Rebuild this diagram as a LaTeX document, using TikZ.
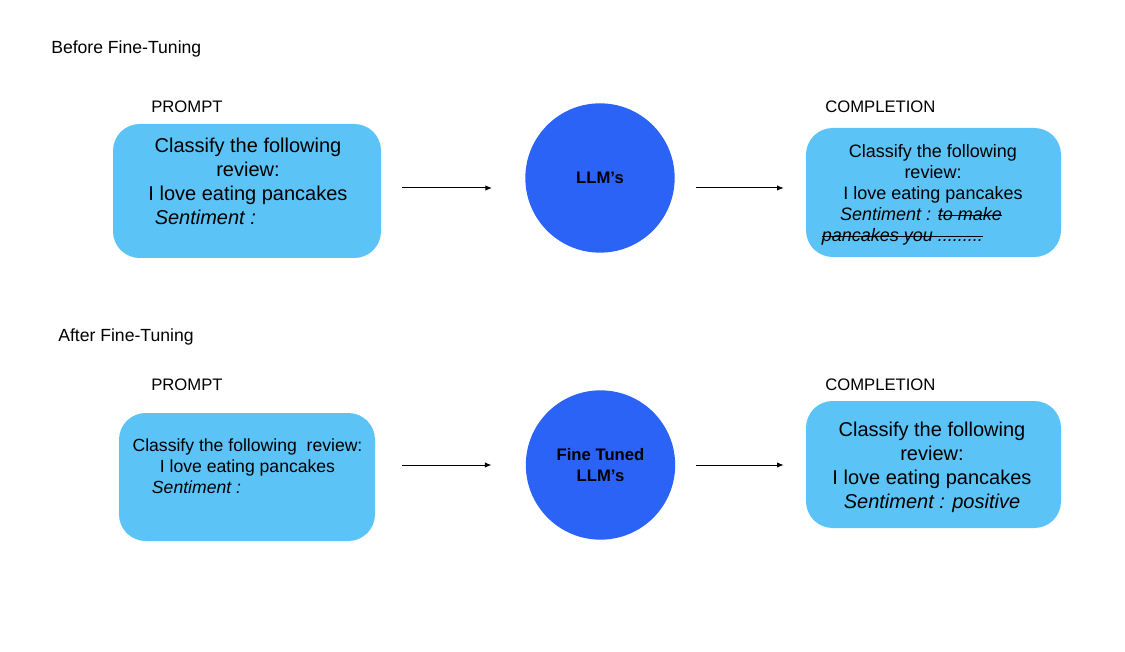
\documentclass[tikz,border=0pt]{standalone}
\usepackage{fontspec}
\setmainfont{Liberation Sans}
\usetikzlibrary{arrows.meta}

\definecolor{boxblue}{RGB}{92,195,246}
\definecolor{llmblue}{RGB}{42,99,246}

\newsavebox\strikebox
\newcommand\strikeout[1]{\sbox\strikebox{#1}\rlap{\rule[0.26em]{\wd\strikebox}{0.6pt}}\usebox\strikebox}

\begin{document}
\begin{tikzpicture}[x=0.75pt,y=-0.75pt,
    box/.style={fill=boxblue,rounded corners=20pt,inner sep=0pt},
    boxtext/.style={inner sep=0pt,align=center},
    llm/.style={circle,fill=llmblue,minimum size=112pt,inner sep=0pt,align=center,font=\bfseries\fontsize{12.5}{15.75}\selectfont},
    tag/.style={inner sep=0pt,anchor=base west,font=\fontsize{12.5}{15}\selectfont},
    flow/.style={-{Latex[length=5pt,width=4pt]},line width=0.75pt}]
    \useasboundingbox (0,0) rectangle (1125,652);

    % before fine-tuning
    \node[tag,font=\fontsize{13.2}{15}\selectfont] (before) at (51,54) {Before Fine-Tuning};
    \node[tag] (prompt1) at (151,113) {PROMPT};
    \node[tag] (compl1) at (825,113) {COMPLETION};

    \node[box,minimum width=201pt,minimum height=100.5pt] (pbox1) at (247,191) {};
    \node[boxtext,font=\fontsize{15}{18}\selectfont] (ptext1) at (248,181)
        {Classify the following\\ review:\\ I love eating pancakes\\ \textit{Sentiment :}\hspace{64pt}\null};
    \node[llm] (llm1) at (600,178) {LLM's};
    \node[box,minimum width=191.25pt,minimum height=96.75pt] (cbox1) at (933.5,192.5) {};
    \node[boxtext,font=\fontsize{13.5}{15.75}\selectfont] (ctext1) at (933,194.5)
        {Classify the following\\ review:\\ I love eating pancakes\\
         \textit{Sentiment : \strikeout{to make}}\hspace{18pt}\null\\
         \textit{\strikeout{pancakes you .........}}\hspace{46pt}\null};

    \draw[flow,shorten <=15.75pt,shorten >=24.75pt] ([yshift=2.25pt]pbox1.east) -- ([yshift=2.25pt]pbox1.east -| llm1.west);
    \draw[flow,shorten <=15.75pt,shorten >=16.5pt] ([yshift=3.4pt]cbox1.west -| llm1.east) -- ([yshift=3.4pt]cbox1.west);

    % after fine-tuning
    \node[tag,font=\fontsize{13.2}{15}\selectfont] (after) at (58,342) {After Fine-Tuning};
    \node[tag] (prompt2) at (151,391) {PROMPT};
    \node[tag] (compl2) at (825,391) {COMPLETION};

    \node[box,minimum width=192pt,minimum height=96pt] (pbox2) at (247,477) {};
    \node[boxtext,font=\fontsize{13.2}{15.75}\selectfont] (ptext2) at (247.5,466)
        {Classify the following~ review:\\ I love eating pancakes\\ \textit{Sentiment :}\hspace{76.5pt}\null};
    \node[llm] (llm2) at (600.5,465) {Fine Tuned\\ LLM's};
    \node[box,minimum width=191.25pt,minimum height=95.25pt] (cbox2) at (933.5,464.5) {};
    \node[boxtext,font=\fontsize{15}{18}\selectfont] (ctext2) at (932,467)
        {Classify the following\\ review:\\ I love eating pancakes\\ \textit{Sentiment : positive}};

    \draw[flow,shorten <=20.25pt,shorten >=25.5pt] (llm2.west -| pbox2.east) -- (llm2.west);
    \draw[flow,shorten <=15.75pt,shorten >=16.5pt] (llm2.east) -- (llm2.east -| cbox2.west);
\end{tikzpicture}
\end{document}
